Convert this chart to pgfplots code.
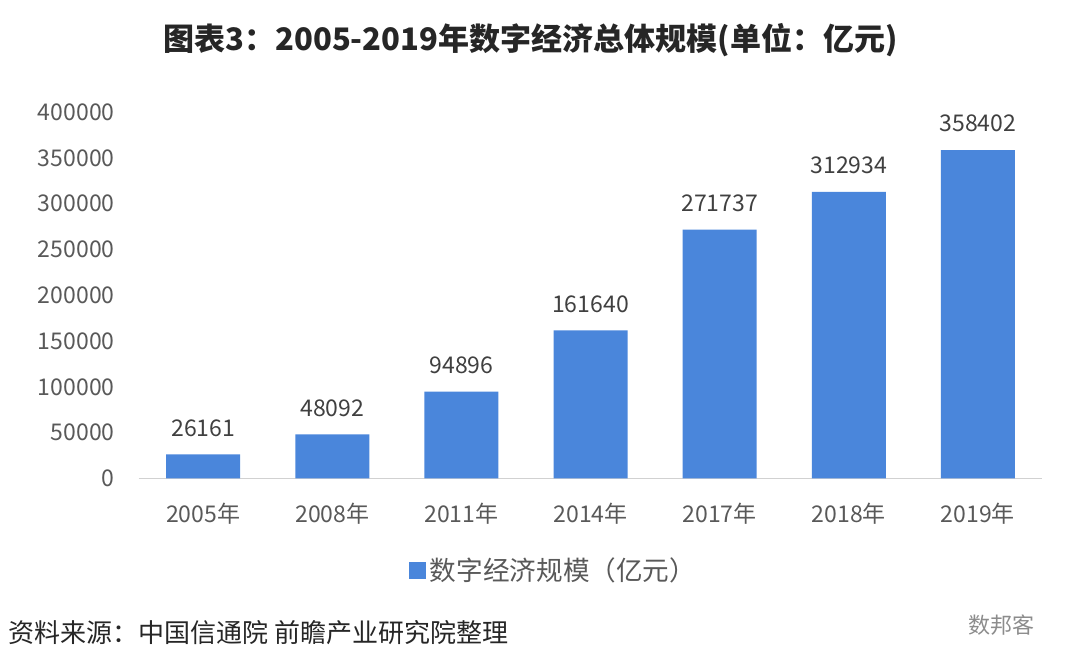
\documentclass[border=0pt]{standalone}
\usepackage{pgfplots}
\pgfplotsset{compat=1.18}
\usepackage{fontspec}
\setmainfont{Noto Sans CJK SC}
\definecolor{barblue}{HTML}{4A86DB}
\definecolor{ticktext}{HTML}{595959}
\definecolor{labtext}{HTML}{404040}
\begin{document}
\begin{tikzpicture}
\begin{axis}[
  name=ax,
  scale only axis,
  width=451.5bp, height=183bp,
  xmin=-0.5, xmax=6.5,
  ymin=0, ymax=400000,
  xtick=data,
  xticklabels={2005年,2008年,2011年,2014年,2017年,2018年,2019年},
  ytick={0,50000,100000,150000,200000,250000,300000,350000,400000},
  scaled y ticks=false,
  /pgf/number format/fixed,
  /pgf/number format/precision=0,
  /pgf/number format/1000 sep={},
  /pgf/number format/assume math mode=true,
  axis lines*=left,
  y axis line style={draw=none},
  x axis line style={draw=black!18, line width=0.8pt},
  major tick length=0pt,
  tick style={draw=none},
  ticklabel style={font=\fontsize{11.5bp}{13bp}\selectfont, text=ticktext},
  yticklabel style={xshift=-8.5bp},
  xticklabel style={yshift=-9bp},
  ybar, bar width=37bp,
  bar shift=0pt,
  nodes near coords,
  every node near coord/.append style={font=\fontsize{11.5bp}{13bp}\selectfont, text=labtext, yshift=5.5bp},
  legend style={draw=none, at={(0.46,-0.251)}, anchor=center,
    font=\fontsize{13.3bp}{15bp}\selectfont, text=ticktext,
    legend cell align=left},
  legend image code/.code={\fill[barblue] (0bp,-4.3bp) rectangle (8.6bp,4.3bp);},
]
\addplot[fill=barblue, draw=none] coordinates {
  (0,26161) (1,48092) (2,94896) (3,161640) (4,271737) (5,312934) (6,358402)
};
\addlegendentry{数字经济规模（亿元）}
\end{axis}
\node[font=\bfseries\fontsize{15.5bp}{18bp}\selectfont, text=black!85, anchor=center]
  at ([xshift=195.75bp,yshift=219bp]ax.south west) {图表3：2005-2019年数字经济总体规模(单位：亿元)};
\node[font=\fontsize{13bp}{15bp}\selectfont, text=black!85, anchor=west, inner sep=0pt]
  at ([xshift=-65.25bp,yshift=-77bp]ax.south west) {资料来源：中国信通院 前瞻产业研究院整理};
\node[font=\fontsize{11bp}{13bp}\selectfont, text=black!45, anchor=center]
  at ([xshift=431bp,yshift=-73.5bp]ax.south west) {数邦客};
\path[use as bounding box] ([xshift=-69.25bp,yshift=-96bp]ax.south west) rectangle ([xshift=18.75bp,yshift=56bp]ax.north east);
\end{tikzpicture}
\end{document}
